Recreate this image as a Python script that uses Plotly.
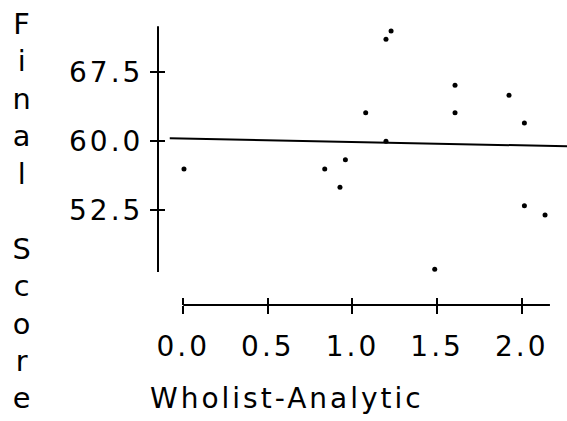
import plotly.graph_objects as go

# ---- data ----
x_vals = [0.004, 0.836, 0.926, 0.958, 1.078, 1.198, 1.228, 1.198, 1.486, 1.606, 1.606, 1.925, 2.016, 2.016, 2.138]
y_vals = [57.0, 57.0, 55.0, 58.0, 63.1, 71.1, 72.0, 60.0, 46.1, 66.1, 63.1, 65.0, 62.0, 53.0, 52.0]
x_ticks = [0.0, 0.5, 1.0, 1.5, 2.0]
x_tick_text = ["0.0", "0.5", "1.0", "1.5", "2.0"]
y_ticks = [52.5, 60.0, 67.5]
y_tick_text = ["52.5", "60.0", "67.5"]
fit_intercept = 60.30
fit_slope = -0.37
fit_x = [-0.08, 2.27]
x_axis_span = [0.0, 2.167]
y_axis_span = [45.8, 72.5]
x_title = "Wholist-Analytic"
y_title = "Final Score"

fit_y = [fit_intercept + fit_slope * v for v in fit_x]

FONT = "DejaVu Sans"
X_RANGE = [-0.1495, 2.2678]
Y_RANGE = [42.21, 73.19]

fig = go.Figure()
fig.add_trace(go.Scatter(x=x_vals, y=y_vals, mode="markers",
                         marker=dict(color="black", size=5), hoverinfo="skip"))
fig.add_trace(go.Scatter(x=fit_x, y=fit_y, mode="lines", xaxis="x2", yaxis="y2",
                         line=dict(color="black", width=2), hoverinfo="skip"))

common = dict(showgrid=False, zeroline=False, showline=False, tickcolor="black", tickwidth=2)

fig.update_layout(
    width=567, height=421,
    margin=dict(l=158, r=0, t=20, b=116),
    paper_bgcolor="white", plot_bgcolor="white",
    showlegend=False,
    xaxis=dict(range=X_RANGE, tickvals=x_ticks, ticktext=x_tick_text, ticks="outside",
               ticklen=8, tickfont=dict(family=FONT, size=28, color="black"),
               ticklabelstandoff=8, **common),
    xaxis2=dict(range=X_RANGE, overlaying="x", anchor="y", side="bottom", tickvals=x_ticks,
                ticks="inside", ticklen=7, showticklabels=False, **common),
    yaxis=dict(range=Y_RANGE, tickvals=y_ticks, ticktext=y_tick_text, ticks="outside",
               ticklen=7, tickfont=dict(family=FONT, size=28, color="black"),
               ticklabelstandoff=1, **common),
    yaxis2=dict(range=Y_RANGE, overlaying="y", anchor="x", side="left", tickvals=y_ticks,
                ticks="inside", ticklen=7, showticklabels=False, **common),
    shapes=[
        dict(type="line", xref="paper", yref="y", x0=0, x1=0,
             y0=y_axis_span[0], y1=y_axis_span[1], line=dict(color="black", width=2)),
        dict(type="line", xref="x", yref="paper", x0=x_axis_span[0], x1=x_axis_span[1],
             y0=0, y1=0, line=dict(color="black", width=2)),
    ],
    annotations=[
        dict(text=x_title, xref="paper", yref="paper", x=0.3154, y=-0.327,
             xanchor="center", yanchor="middle", showarrow=False,
             font=dict(family=FONT, size=28, color="black")),
        dict(text="<br>".join(list(y_title)), xref="paper", yref="paper", x=-0.330, y=0.33,
             xanchor="center", yanchor="middle", showarrow=False,
             font=dict(family=FONT, size=28.8, color="black")),
    ],
)

post = ("var s=document.createElement('style');"
        "s.textContent='.main-svg text{letter-spacing:3px}';"
        "document.head.appendChild(s);")
fig.write_html("out.html", post_script=post)
